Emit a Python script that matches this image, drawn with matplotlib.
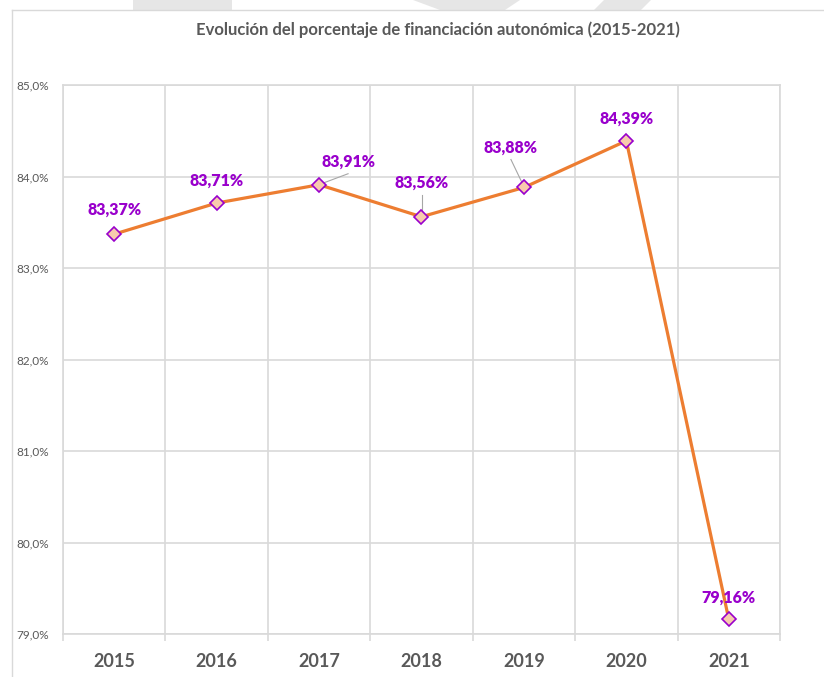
import matplotlib
matplotlib.use("Agg")
import matplotlib.pyplot as plt
from matplotlib.patches import Polygon
from matplotlib.lines import Line2D
import numpy as np

# data
years = ["2015", "2016", "2017", "2018", "2019", "2020", "2021"]
values = [83.37, 83.71, 83.91, 83.56, 83.88, 84.39, 79.16]
labels = ["83,37%", "83,71%", "83,91%", "83,56%", "83,88%", "84,39%", "79,16%"]
yticks = [79, 80, 81, 82, 83, 84, 85]
ytick_labels = ["79,0%", "80,0%", "81,0%", "82,0%", "83,0%", "84,0%", "85,0%"]

# label offsets in pixels (dx, dy)
label_offsets = [(0, 24), (0, 22), (29, 23), (0, 34), (-13, 40), (0, 22), (0, 22)]
# leader lines: point index -> (start, end) in pixel offsets from the point
leader_segments = {2: ((5, 2), (29, 11)), 3: ((1, 6), (1, 22)), 4: ((-2, 5), (-13, 28))}

plt.rcParams["font.family"] = ["Lato", "DejaVu Sans"]

GRID = "#D9D9D9"
TEXT = "#595959"
PURPLE = "#9900CC"
ORANGE = "#ED7D31"

W, H = 824, 677
fig = plt.figure(figsize=(W / 100, H / 100), dpi=100)


def px(x, y):
    return x / W, 1 - y / H


# faint page watermark above the chart frame
for pts in [
    [(133, 0), (232, 0), (232, 10), (133, 10)],
    [(413, 0), (520, 0), (505, 10), (440, 10)],
    [(604, 0), (651, 0), (641, 10), (594, 10)],
]:
    fig.patches.append(Polygon([px(*p) for p in pts], closed=True,
                               transform=fig.transFigure, color="#E6E6E6", lw=0))

# chart frame
fig.lines.append(Line2D([px(12, 0)[0], 1], [px(0, 9.5)[1]] * 2,
                        transform=fig.transFigure, color=GRID, lw=1))
fig.lines.append(Line2D([px(12, 0)[0]] * 2, [0, px(0, 9.5)[1]],
                        transform=fig.transFigure, color=GRID, lw=1))

ax = fig.add_axes([63 / W, 1 - 634 / H, (780 - 63) / W, (634 - 85) / H])
ax.set_xlim(-0.5, len(years) - 0.5)
ax.set_ylim(79, 85)

x = np.arange(len(years))
ax.plot(x, values, color=ORANGE, lw=2.3, marker="D", markersize=7.5,
        markerfacecolor="#F8CBAD", markeredgecolor=PURPLE, markeredgewidth=1.2,
        zorder=3, clip_on=False)

for xi, v, lab, (dx, dy) in zip(x, values, labels, label_offsets):
    ax.annotate(lab, (xi, v), xytext=(dx, dy), textcoords="offset pixels",
                ha="center", va="center", color=PURPLE, fontsize=11.5,
                fontweight="heavy", zorder=4)

inv = ax.transData.inverted()
for i, ((x0, y0), (x1, y1)) in leader_segments.items():
    base = ax.transData.transform((x[i], values[i]))
    (ax0, ay0), (ax1, ay1) = inv.transform([base + [x0, y0], base + [x1, y1]])
    ax.plot([ax0, ax1], [ay0, ay1], color="#A6A6A6", lw=0.8, zorder=2)

ax.set_yticks(yticks)
ax.set_yticklabels(ytick_labels)
ax.set_xticks(x)
ax.set_xticklabels(years)
ax.set_xticks(np.arange(-0.5, len(years)), minor=True)

ax.grid(True, axis="y", color=GRID, lw=1.2)
ax.grid(True, axis="x", which="minor", color=GRID, lw=1.2)
ax.set_axisbelow(True)
for s in ax.spines.values():
    s.set_color(GRID)
    s.set_linewidth(1.2)

ax.tick_params(axis="y", length=0, labelsize=8.5, labelcolor=TEXT, pad=10)
ax.tick_params(axis="x", which="major", length=0, labelsize=13, labelcolor=TEXT, pad=14)
ax.tick_params(axis="x", which="minor", length=5, color=GRID, width=1.2)
for t in ax.get_xticklabels():
    t.set_fontweight("bold")

fig.text(438 / W, 1 - 30 / H, "Evolución del porcentaje de financiación autonómica (2015-2021)",
         ha="center", va="center", fontsize=12, fontweight="bold", color=TEXT)

fig.savefig("out.png", dpi=100)
